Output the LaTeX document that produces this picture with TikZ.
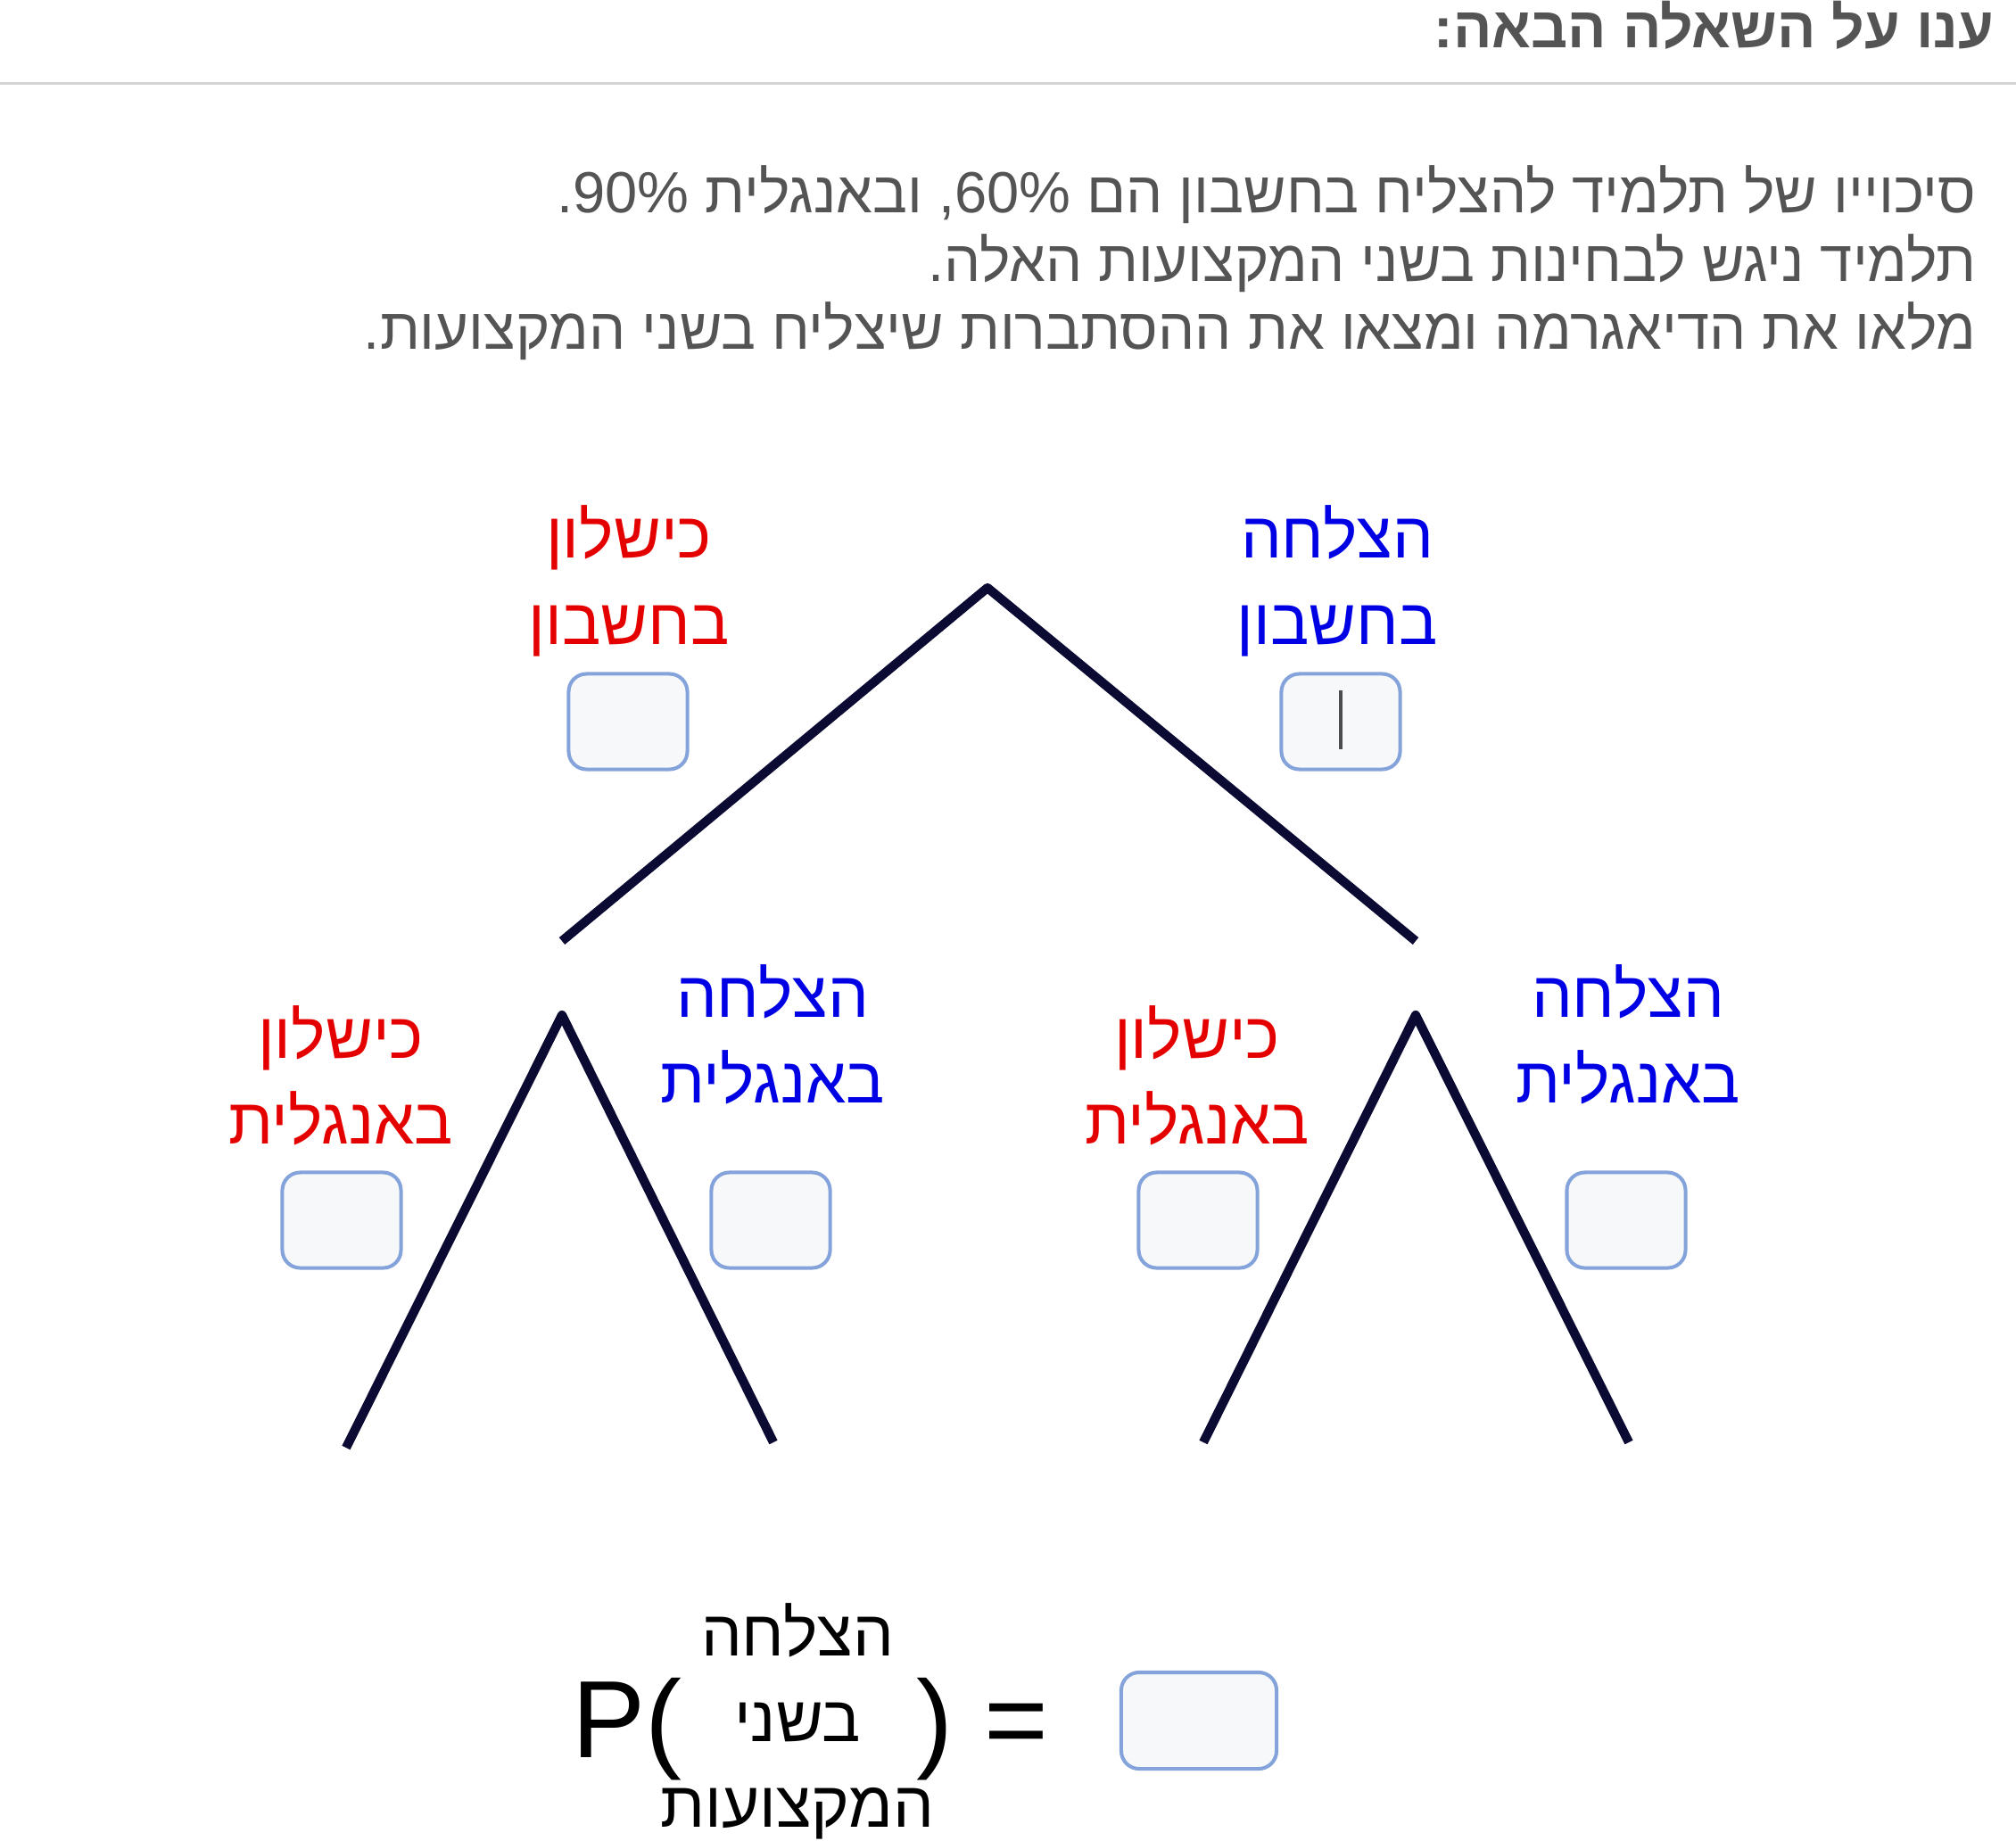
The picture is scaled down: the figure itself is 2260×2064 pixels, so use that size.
\documentclass[tikz,border=0pt]{standalone}
\usepackage{fontspec}
\setmainfont{Liberation Sans}
\newfontfamily\hebfont[Script=Hebrew]{Liberation Sans}
\TeXXeTstate=1
\usetikzlibrary{positioning}
\definecolor{textgray}{rgb}{0.33,0.33,0.33}
\definecolor{rulegray}{rgb}{0.83,0.83,0.83}
\definecolor{branchnavy}{rgb}{0.04,0.04,0.2}
\definecolor{failred}{rgb}{0.9,0,0}
\definecolor{passblue}{rgb}{0,0,0.9}
\definecolor{boxedge}{rgb}{0.52,0.64,0.86}
\definecolor{boxfill}{rgb}{0.965,0.972,0.98}
\tikzset{
  branch/.style={color=branchnavy, line width=2.9pt, line cap=butt},
  ansbox/.style={draw=boxedge, fill=boxfill, line width=1.15pt, rounded corners=5.7pt,
    minimum width=1.33cm, minimum height=1.07cm, inner sep=0pt},
  lbl/.style={align=center, anchor=base, inner sep=0pt, font=\hebfont\fontsize{20.6}{27.3}\selectfont},
  faillbl/.style={lbl, text=failred},
  passlbl/.style={lbl, text=passblue},
  para/.style={anchor=base east, inner sep=0pt, text=textgray, font=\hebfont\fontsize{18.5}{21}\selectfont},
  bigmath/.style={anchor=base west, inner sep=0pt, font=\fontsize{35}{42}\selectfont}
}
\begin{document}
\begin{tikzpicture}[x=0.01cm,y=-0.01cm, line join=round]
\useasboundingbox (0,0) rectangle (2260,2064);
% header
\node [anchor=base east, inner sep=0pt, text=textgray, font=\hebfont\bfseries\fontsize{18.3}{21}\selectfont] (title) at (2236,54) {\beginR ענו על השאלה הבאה:\endR};
\draw [rulegray, line width=0.85pt] (0,94) -- (2260,94);
\node [para] (line1) at (2216,239) {\beginR סיכוייו של תלמיד להצליח בחשבון הם \beginL 60\%\endL, ובאנגלית \beginL 90\%\endL.\endR};
\node [para] (line2) at (2216,316) {\beginR תלמיד ניגש לבחינות בשני המקצועות האלה.\endR};
\node [para] (line3) at (2216,392) {\beginR מלאו את הדיאגרמה ומצאו את ההסתברות שיצליח בשני המקצועות.\endR};
% tree
\coordinate (root) at (1107,659);
\coordinate (mathF) at (630,1055);
\coordinate (mathP) at (1587,1055);
\coordinate (forkF) at (630,1138);
\coordinate (forkP) at (1587,1138);
\coordinate (engFF) at (388,1623);
\coordinate (engFP) at (867,1617);
\coordinate (engPF) at (1349,1617);
\coordinate (engPP) at (1826,1617);
\draw [branch] (mathF) -- (root) -- (mathP);
\draw [branch] (engFF) -- (forkF) -- (engFP);
\draw [branch] (engPF) -- (forkP) -- (engPP);
% labels (anchored at the baseline of the last line)
\node [faillbl] (mathFtxt) at (705,722) {\beginR כישלון\endR\\\beginR בחשבון\endR};
\node [passlbl] (mathPtxt) at (1499,722) {\beginR הצלחה\endR\\\beginR בחשבון\endR};
\node [faillbl] (engFFtxt) at (382,1282) {\beginR כישלון\endR\\\beginR באנגלית\endR};
\node [passlbl] (engFPtxt) at (866,1236) {\beginR הצלחה\endR\\\beginR באנגלית\endR};
\node [faillbl] (engPFtxt) at (1342,1282) {\beginR כישלון\endR\\\beginR באנגלית\endR};
\node [passlbl] (engPPtxt) at (1825,1236) {\beginR הצלחה\endR\\\beginR באנגלית\endR};
% answer boxes
\node [ansbox] (mathFbox) at (704,809) {};
\node [ansbox] (mathPbox) at (1503,809) {};
\draw [black!70, line width=1.3pt] ([yshift=-0.31cm]mathPbox.center) -- ([yshift=0.35cm]mathPbox.center);
\foreach \nm/\xx in {engFFbox/383, engFPbox/864, engPFbox/1343, engPPbox/1823}
  \node [ansbox] (\nm) at (\xx,1368) {};
% result line
\node [bigmath] (popen) at (641,1970) {P(};
\node [lbl, text=black] (event) at (894,2048) {\beginR הצלחה\endR\\\beginR בשני\endR\\\beginR המקצועות\endR};
\node [bigmath] (pclose) at (1027,1970) {)};
\node [bigmath] (equals) at (1103,1970) {=};
\node [ansbox, minimum width=1.74cm, minimum height=1.08cm] (resultbox) at (1344,1929) {};
\end{tikzpicture}
\end{document}
